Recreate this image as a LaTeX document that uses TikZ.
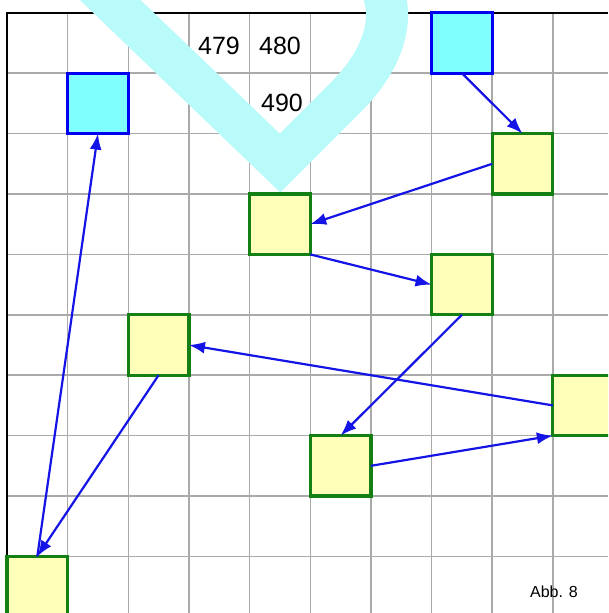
\documentclass[tikz,border=0pt]{standalone}
\usepackage{fontspec}
\setmainfont{Liberation Sans}
\usetikzlibrary{arrows.meta}
\definecolor{heartc}{RGB}{185,250,250}
\definecolor{cyanfill}{RGB}{128,255,255}
\definecolor{cyanline}{RGB}{0,0,240}
\definecolor{yelfill}{RGB}{255,255,185}
\definecolor{greenline}{RGB}{20,128,20}
\definecolor{arrblue}{RGB}{20,20,230}
\definecolor{gridc}{RGB}{170,170,170}
\tikzset{
  gridline/.style={draw=gridc, line width=1.5pt},
  borderline/.style={draw=black, line width=2.4pt},
  heartline/.style={draw=heartc, line width=42pt, line join=miter},
  cellbox/.style={rectangle, minimum width=60.65pt, minimum height=60.4pt, inner sep=0pt, outer sep=0pt, line width=3.2pt},
  cbox/.style={cellbox, draw=cyanline, fill=cyanfill},
  ybox/.style={cellbox, draw=greenline, fill=yelfill},
  arr/.style={draw=arrblue, line width=2.2pt, -{Latex[length=16pt,width=12pt]}},
  numtext/.style={inner sep=0pt, font=\fontsize{25}{25}\selectfont},
  captext/.style={inner sep=0pt, font=\fontsize{16}{16}\selectfont}
}
\begin{document}
\begin{tikzpicture}[x=1pt,y=-1pt]
\useasboundingbox (0,0) rectangle (608,613);
\clip (0,0) rectangle (608,613);
\fill[white] (0,0) rectangle (608,613);
% grid
\foreach \i in {1,...,9} \draw[gridline] ({7+60.65*\i},12.8) -- ({7+60.65*\i},613);
\foreach \j in {1,...,9} \draw[gridline] (7,{12.8+60.4*\j}) -- (608,{12.8+60.4*\j});
\draw[borderline] (7,613) -- (7,12.8) -- (608,12.8);
% heart
\draw[heartline] (79,-30) -- (280,163) -- (346,97)
  .. controls (368,75) and (388,45) .. (387,12)
  .. controls (386,-5) and (380,-20) .. (370,-35);
% texts
\node[numtext] (t479) at (219,46) {479};
\node[numtext] (t480) at (280,46) {480};
\node[numtext] (t490) at (282,103) {490};
\node[captext] (abb) at (554,592) {Abb. 8};
% boxes
\node[cbox] (c1) at (97.98,103.4) {};
\node[cbox] (c2) at (461.9,43) {};
\node[ybox] (y1) at (522.5,163.8) {};
\node[ybox] (y2) at (279.9,224.2) {};
\node[ybox] (y3) at (461.9,284.6) {};
\node[ybox] (y4) at (158.6,345) {};
\node[ybox] (y5) at (583.2,405.4) {};
\node[ybox] (y6) at (340.6,465.8) {};
\node[ybox] (y7) at (37.3,586.6) {};
% arrows
\draw[arr] (c2.south) -- (y1.north);
\draw[arr] (y1.west) -- (y2.east);
\draw[arr] (y2.south east) -- (y3.west);
\draw[arr] (y3.south) -- (y6.north);
\draw[arr] (y6.east) -- (y5.south west);
\draw[arr] (y5.west) -- (y4.east);
\draw[arr] (y4.south) -- (y7.north);
\draw[arr] (y7.north) -- (c1.south);
\end{tikzpicture}
\end{document}
